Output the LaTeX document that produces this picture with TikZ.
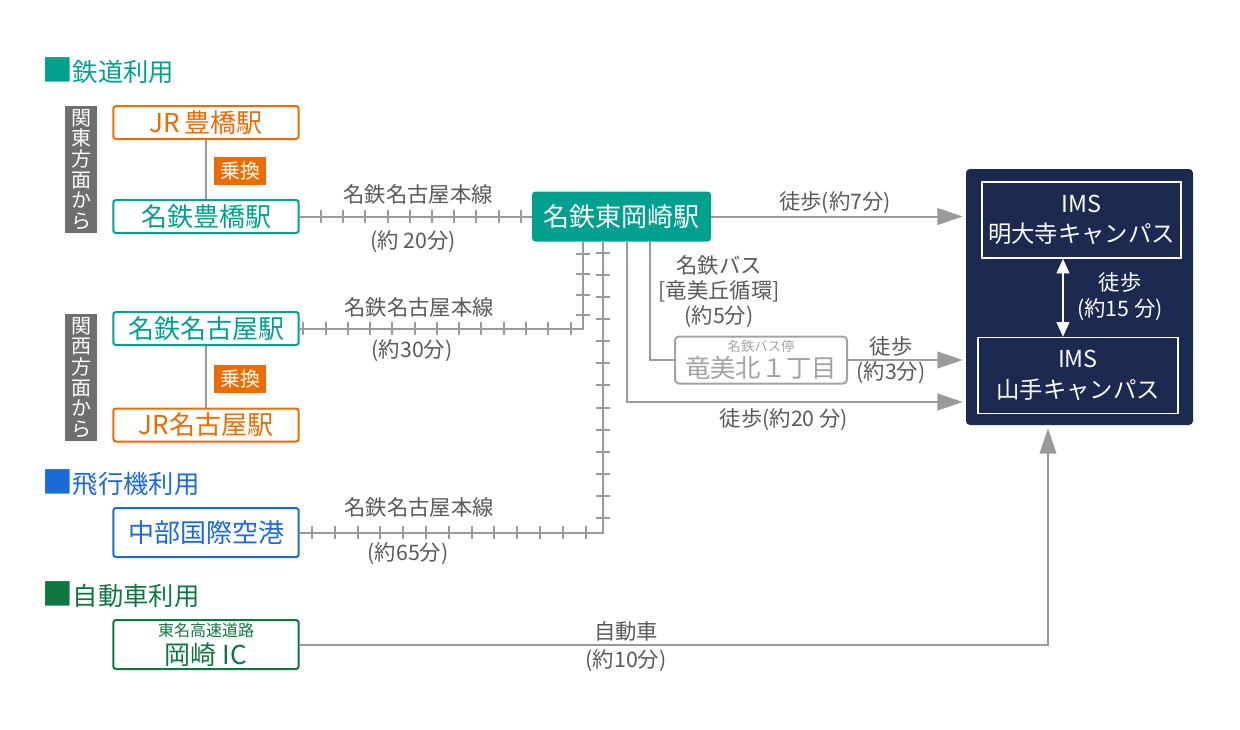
\documentclass[tikz,border=0pt]{standalone}
\usepackage{fontspec}
\setmainfont{Noto Sans CJK JP}
\usetikzlibrary{arrows.meta, positioning, calc}
\definecolor{imsteal}{HTML}{00A08F}
\definecolor{imsorange}{HTML}{EC6C00}
\definecolor{imsblue}{HTML}{1A6AD9}
\definecolor{imsgreen}{HTML}{0E7640}
\definecolor{imsnavy}{HTML}{1C2951}
\definecolor{imsrail}{HTML}{9A9A9A}
\definecolor{imstext}{HTML}{595959}
\definecolor{imsside}{HTML}{6E6E6E}
\definecolor{imsbus}{HTML}{A3A3A3}

\begin{document}
\begin{tikzpicture}[x=0.75pt, y=-0.75pt,
    sta/.style={draw, line width=1.5pt, rounded corners=2pt, fill=white,
                minimum width=139pt, minimum height=24.75pt, inner sep=0pt,
                align=center, font=\fontsize{19.5}{21}\selectfont},
    side/.style={fill=imsside, text=white, minimum width=24pt, minimum height=95pt,
                 inner sep=0pt, align=center, font=\fontsize{15}{15.5}\selectfont},
    xfer/.style={fill=imsorange, text=white, minimum width=39pt, minimum height=21pt,
                 inner sep=0pt, font=\fontsize{15}{15}\selectfont},
    head/.style={anchor=west, inner sep=0pt, font=\fontsize{19}{19}\selectfont},
    lbl/.style={text=imstext, inner sep=0pt, align=center, font=\fontsize{16}{19}\selectfont},
    rail/.style={imsrail, line width=1.5pt},
    railtick/.style={imsrail, line width=1.5pt},
    arr/.style={imsrail, line width=1.5pt, shorten >=2.25pt,
                -{Triangle[length=19pt, width=12.5pt]}},
    campus/.style={draw=white, line width=1.1pt, text=white, align=center,
                   inner sep=0pt, font=\fontsize{17.5}{23}\selectfont}
  ]
  \useasboundingbox (0,0) rectangle (1240,729);

  \node[head, text=imsteal] (hrail) at (42,71) {{\fontsize{23}{19}\selectfont ■}鉄道利用};
  \node[side] (kanto) at (81,169.5) {関\\東\\方\\面\\か\\ら};
  \node[sta, draw=imsorange, text=imsorange] (jrtoyo) at (206,122.5) {JR\,豊橋駅};
  \node[sta, draw=imsteal, text=imsteal] (meitoyo) at (206,216.5) {名鉄豊橋駅};
  \draw[rail] (jrtoyo) -- (meitoyo);
  \node[xfer] (xfer1) at (240,171) {乗換};

  \node[side] (kansai) at (81,377.5) {関\\西\\方\\面\\か\\ら};
  \node[sta, draw=imsteal, text=imsteal] (meinago) at (206,328.5) {名鉄名古屋駅};
  \node[sta, draw=imsorange, text=imsorange] (jrnago) at (206,425) {JR名古屋駅};
  \draw[rail] (meinago) -- (jrnago);
  \node[xfer] (xfer2) at (240,379) {乗換};

  \node[head, text=imsblue] (hplane) at (42,483) {{\fontsize{23}{19}\selectfont ■}飛行機利用};
  \node[sta, draw=imsblue, text=imsblue, minimum height=36.75pt] (chubu) at (206,532.5) {中部国際空港};

  \node[head, text=imsgreen] (hcar) at (42,595) {{\fontsize{23}{19}\selectfont ■}自動車利用};
  \node[sta, draw=imsgreen, text=imsgreen, minimum height=36.75pt] (okic) at (206,644.5)
    {{\fontsize{12}{12}\selectfont 東名高速道路}\\岡崎 IC};

  \node[sta, fill=imsteal, draw=imsteal, text=white, minimum width=132.75pt,
        minimum height=36pt] (higashi) at (621.5,216.5) {名鉄東岡崎駅};

  \node[draw=imsbus, line width=1.5pt, rounded corners=3pt, minimum width=129pt,
        minimum height=35.25pt, text=imsbus, align=center, inner sep=0pt,
        font=\fontsize{19}{19}\selectfont] (busstop) at (761,360)
    {{\fontsize{10}{10}\selectfont 名鉄バス停}\\竜美北１丁目};

  \node[fill=imsnavy, rounded corners=3pt, minimum width=170.25pt, minimum height=192pt,
        inner sep=0pt] (ims) at (1079.5,297) {};
  \node[campus, minimum width=149.25pt, minimum height=57pt] (meidaiji) at (1081.5,220)
    {IMS\\明大寺キャンパス};
  \node[campus, minimum width=150pt, minimum height=57pt] (yamate) at (1078,375.5)
    {IMS\\山手キャンパス};
  \draw[white, line width=1.5pt, {Triangle[length=11pt, width=9.5pt]}-{Triangle[length=11pt, width=9.5pt]}]
    ($(meidaiji.south)+(-18.5,0)$) -- ($(yamate.north)+(-15,0)$);
  \node[lbl, text=white, font=\fontsize{16}{20}\selectfont] (walk15) at (1120,296.5) {徒歩\\(約15 分)};

  % tracks
  \draw[rail] (meitoyo.east) -- (higashi.west);
  \foreach \i in {0,...,9}
    \draw[railtick] ({321+22.2*\i},210) -- ++(0,13);
  \node[lbl] (line1) at (418,194) {名鉄名古屋本線};
  \node[lbl] (time1) at (413,242) {(約 20分)};

  \draw[rail] (meinago.east) -| ($(higashi.south)+(-38.5,0)$);
  \foreach \i in {0,...,12}
    \draw[railtick] ({303.3+22.27*\i},322) -- ++(0,13);
  \foreach \y in {254,274.3,294.7,315}
    \draw[railtick] (576,\y) -- ++(14,0);
  \node[lbl] (line2) at (419,307) {名鉄名古屋本線};
  \node[lbl] (time2) at (412,351) {(約30分)};

  \draw[rail] (chubu.east) -| ($(higashi.south)+(-18.5,0)$);
  \foreach \i in {0,...,12}
    \draw[railtick] ({312+22.8*\i},526) -- ++(0,13);
  \foreach \i in {0,...,12}
    \draw[railtick] (596,{253+22.08*\i}) -- ++(14,0);
  \node[lbl] (line3) at (419,507) {名鉄名古屋本線};
  \node[lbl] (time3) at (408,554) {(約65分)};

  % to campus
  \draw[arr] (higashi.east) -- (higashi.east -| ims.west);
  \node[lbl] (walk7) at (835,203) {徒歩(約7分)};

  \draw[rail] ($(higashi.south)+(28.5,0)$) |- (busstop.west);
  \node[lbl] (bus) at (719,291.5) {名鉄バス\\{[}竜美丘循環{]}\\(約5分)};
  \draw[arr] (busstop.east) -- (busstop.east -| ims.west);
  \node[lbl] (walk3) at (891,360) {徒歩\\(約3分)};

  \draw[arr] ($(higashi.south)+(5.5,0)$) |- ($(ims.west)+(0,105)$);
  \node[lbl] (walk20) at (784,420) {徒歩(約20 分)};

  \draw[arr] (okic.east) -| ($(ims.south)+(-31.5,0)$);
  \node[lbl] (car) at (626,631) {自動車};
  \node[lbl] (time4) at (626,661) {(約10分)};
\end{tikzpicture}
\end{document}
